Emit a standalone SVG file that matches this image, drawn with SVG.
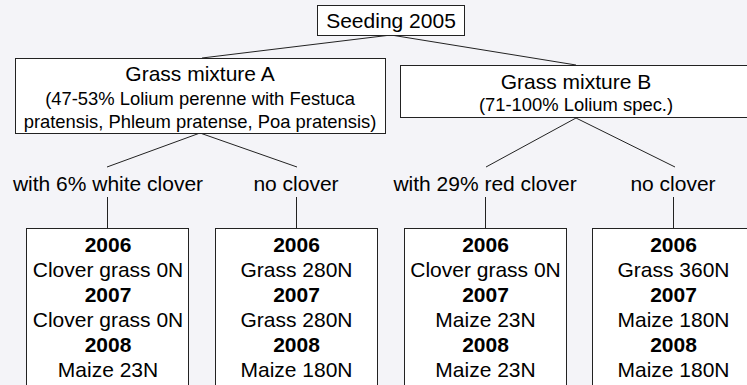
<svg xmlns="http://www.w3.org/2000/svg" width="747" height="385" viewBox="0 0 747 385">
<style>
text{font-family:"Liberation Sans",Arial,sans-serif;fill:#000;text-anchor:middle}
.t{font-size:21px}
.s{font-size:18.4px}
.b{font-size:21px;font-weight:bold}
rect{fill:#fff;stroke:#222;stroke-width:1}
.c line{stroke:#222;stroke-width:1}
</style>
<rect x="0" y="0" width="747" height="385" style="fill:#f4f4f8;stroke:none"/>
<g class="c" id="connectors">
<line x1="391" y1="35" x2="202" y2="58"/>
<line x1="391" y1="35" x2="576" y2="65"/>
<line x1="200" y1="133" x2="107" y2="167"/>
<line x1="200" y1="133" x2="297" y2="167"/>
<line x1="576" y1="118" x2="486" y2="167"/>
<line x1="576" y1="118" x2="675" y2="167"/>
<line x1="107.5" y1="197" x2="107.5" y2="228"/>
<line x1="296.5" y1="197" x2="296.5" y2="228"/>
<line x1="485.5" y1="197" x2="485.5" y2="228"/>
<line x1="673.5" y1="197" x2="673.5" y2="228"/>
</g>
<g id="seeding">
<rect x="317.5" y="5.5" width="147" height="30"/>
<text class="t" x="391" y="27.5">Seeding 2005</text>
</g>
<g id="mixA">
<rect x="15.5" y="58.5" width="370" height="75"/>
<text class="t" x="200" y="81">Grass mixture A</text>
<text class="s" x="200" y="105">(47-53% Lolium perenne with Festuca</text>
<text class="s" x="200" y="127.5">pratensis, Phleum pratense, Poa pratensis)</text>
</g>
<g id="mixB">
<rect x="400.5" y="65.5" width="352" height="52"/>
<text class="t" x="576" y="88.5">Grass mixture B</text>
<text class="s" x="576" y="111">(71-100% Lolium spec.)</text>
</g>
<g id="labelA1"><text class="t" x="108" y="191">with 6% white clover</text></g>
<g id="labelA2"><text class="t" x="296" y="191">no clover</text></g>
<g id="labelB1"><text class="t" x="485" y="191">with 29% red clover</text></g>
<g id="labelB2"><text class="t" x="673" y="191">no clover</text></g>
<g id="box1">
<rect x="26.5" y="228.5" width="162" height="180"/>
<text class="b" x="108" y="252">2006</text>
<text class="t" x="108" y="277">Clover grass 0N</text>
<text class="b" x="108" y="302">2007</text>
<text class="t" x="108" y="327">Clover grass 0N</text>
<text class="b" x="108" y="352">2008</text>
<text class="t" x="108" y="377">Maize 23N</text>
</g>
<g id="box2">
<rect x="215.5" y="228.5" width="162" height="180"/>
<text class="b" x="296.5" y="252">2006</text>
<text class="t" x="296.5" y="277">Grass 280N</text>
<text class="b" x="296.5" y="302">2007</text>
<text class="t" x="296.5" y="327">Grass 280N</text>
<text class="b" x="296.5" y="352">2008</text>
<text class="t" x="296.5" y="377">Maize 180N</text>
</g>
<g id="box3">
<rect x="404.5" y="228.5" width="162" height="180"/>
<text class="b" x="485.5" y="252">2006</text>
<text class="t" x="485.5" y="277">Clover grass 0N</text>
<text class="b" x="485.5" y="302">2007</text>
<text class="t" x="485.5" y="327">Maize 23N</text>
<text class="b" x="485.5" y="352">2008</text>
<text class="t" x="485.5" y="377">Maize 23N</text>
</g>
<g id="box4">
<rect x="592.5" y="228.5" width="162" height="180"/>
<text class="b" x="673.5" y="252">2006</text>
<text class="t" x="673.5" y="277">Grass 360N</text>
<text class="b" x="673.5" y="302">2007</text>
<text class="t" x="673.5" y="327">Maize 180N</text>
<text class="b" x="673.5" y="352">2008</text>
<text class="t" x="673.5" y="377">Maize 180N</text>
</g>
</svg>
